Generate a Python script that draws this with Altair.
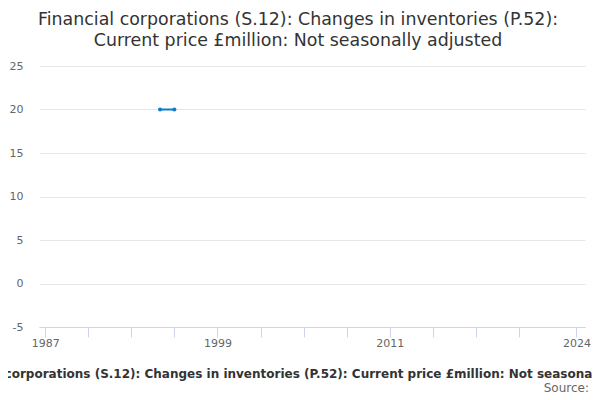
import altair as alt
import pandas as pd

years = [1995, 1996]
values = [20, 20]

title_lines = ["Financial corporations (S.12): Changes in inventories (P.52):",
               "Current price £million: Not seasonally adjusted"]
axis_title = "Financial corporations (S.12): Changes in inventories (P.52): Current price £million: Not seasonally adjusted"
tick_years = [1987, 1990, 1993, 1996, 1999, 2002, 2005, 2008, 2011, 2014, 2017, 2020, 2024]
label_years = [1987, 1999, 2011, 2024]
y_ticks = [-5, 0, 5, 10, 15, 20, 25]

df = pd.DataFrame({"year": years, "value": values})
FONT = "DejaVu Sans"

x_enc = alt.X("year:Q",
              scale=alt.Scale(domain=[1986.57, 2024.6], nice=False, zero=False),
              axis=alt.Axis(values=tick_years,
                            labelExpr="indexof([1987,1999,2011,2024], datum.value) >= 0 ? datum.value : ''",
                            format="d", grid=False, domainColor="#ccd6eb", tickColor="#ccd6eb",
                            tickSize=10, labelColor="#666666", labelFontSize=11, labelFont=FONT,
                            labelPadding=0, labelFlush=False,
                            title=axis_title, titleFont=FONT, titleFontSize=12, titleFontWeight="bold",
                            titleColor="#333333", titleX=266, titleY=46, titleBaseline="middle",
                            titleAnchor="middle", titleAlign="center"))
y_enc = alt.Y("value:Q",
              scale=alt.Scale(domain=[-5, 25], nice=False),
              axis=alt.Axis(values=y_ticks, domain=False, ticks=False, gridColor="#e6e6e6",
                            labelExpr="replace(format(datum.value, 'd'), '\u2212', '-')",
                            labelColor="#666666", labelFontSize=11, labelFont=FONT, labelPadding=16,
                            title=None))

line = alt.Chart(df).mark_line(color="#0a7dcb", strokeWidth=2).encode(x=x_enc, y=y_enc)
pts = alt.Chart(df).mark_point(color="#0a7dcb", filled=True, size=16, opacity=1).encode(x="year:Q", y="value:Q")

src = alt.Chart(pd.DataFrame({"t": ["Source:"]})).mark_text(
    align="right", baseline="middle", font=FONT, fontSize=12, color="#666666"
).encode(text="t:N", x=alt.value(550), y=alt.value(321.5))

chart = alt.layer(line, pts, src).properties(
    width=546, height=261,
    autosize=alt.AutoSizeParams(type="none"),
    padding={"left": 31, "top": 58, "right": 7, "bottom": 65},
    title=alt.TitleParams(text=title_lines, font=FONT, fontSize=17.4, fontWeight="normal",
                          color="#333333", anchor="middle", dx=-14, offset=11, lineHeight=21),
).configure_view(stroke=None)

chart.save("out.html", embed_options={"renderer": "svg", "actions": False})
